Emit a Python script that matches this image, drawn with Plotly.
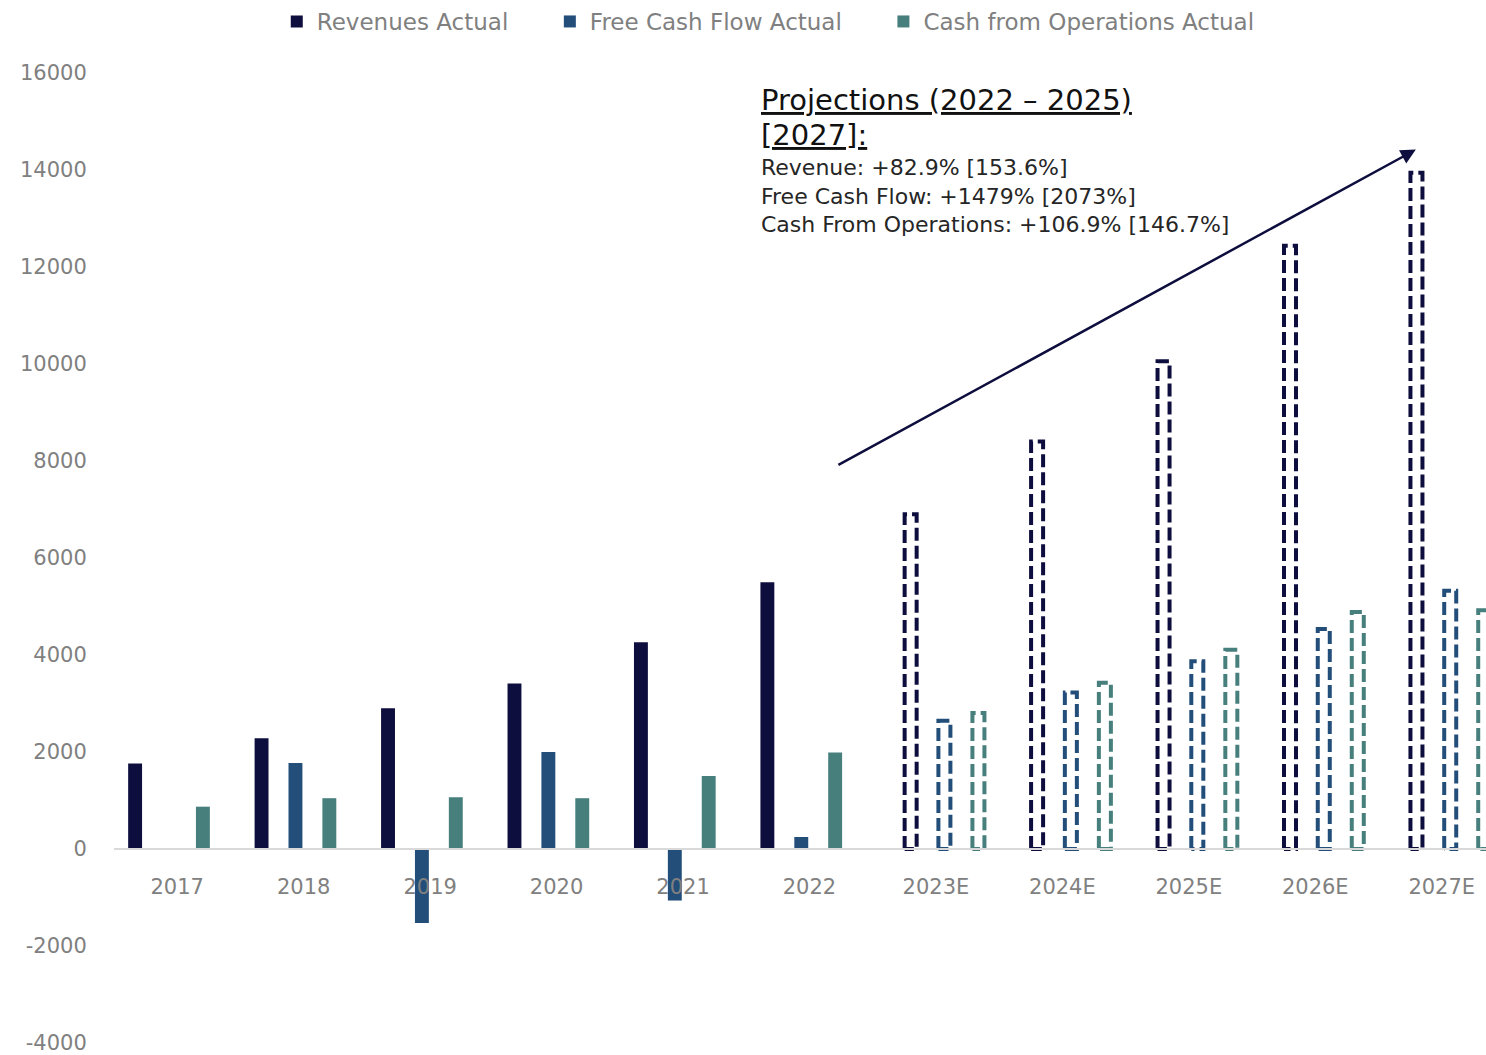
import plotly.graph_objects as go

# ---------------- data ----------------
categories = ["2017", "2018", "2019", "2020", "2021", "2022",
              "2023E", "2024E", "2025E", "2026E", "2027E"]
actual_years = ["2017", "2018", "2019", "2020", "2021", "2022"]
rev_actual = [1760, 2280, 2900, 3410, 4260, 5498]
fcf_actual = [None, 1770, -1530, 2000, -1065, 245]
cfo_actual = [870, 1045, 1065, 1045, 1505, 1988]

proj_years = ["2023E", "2024E", "2025E", "2026E", "2027E"]
rev_proj = [6900, 8400, 10056, 12440, 13943]
fcf_proj = [2640, 3225, 3869, 4535, 5324]
cfo_proj = [2800, 3425, 4105, 4885, 4920]

y_ticks = [-4000, -2000, 0, 2000, 4000, 6000, 8000, 10000, 12000, 14000, 16000]
y_tick_text = ["-4000", "-2000", "0", "2000", "4000", "6000", "8000",
               "10000", "12000", "14000", "16000"]

series_names = ["Revenues Actual", "Free Cash Flow Actual", "Cash from Operations Actual"]
colors = ["#0E0E3E", "#234E7A", "#467F7C"]

# ---------------- layout constants ----------------
FONT = "DejaVu Sans"
GRAY = "#808080"
actual_offsets = [-0.333, -0.065, 0.203]
proj_offsets = [-0.2, 0.067, 0.336]
bar_w = 0.11
proj_w = 0.095
legend_pad = ["\u00a0" * 5, "\u00a0" * 5, ""]

fig = go.Figure()

idx = {c: i for i, c in enumerate(categories)}

# actual solid bars
for name, pad, vals, off, col in zip(series_names, legend_pad,
                                     [rev_actual, fcf_actual, cfo_actual],
                                     actual_offsets, colors):
    fig.add_trace(go.Bar(
        name=name + pad,
        x=[idx[y] + off for y in actual_years],
        y=vals,
        width=bar_w,
        marker=dict(color=col, line=dict(width=0)),
    ))

# projected dashed outline bars
for name, vals, off, col in zip(series_names, [rev_proj, fcf_proj, cfo_proj],
                                proj_offsets, colors):
    xs, ys = [], []
    for y, v in zip(proj_years, vals):
        c = idx[y] + off
        l, r = c - proj_w / 2, c + proj_w / 2
        xs += [l, l, r, r, l, None]
        ys += [0, v, v, 0, 0, None]
    fig.add_trace(go.Scatter(
        x=xs, y=ys, mode="lines", showlegend=False, hoverinfo="skip",
        line=dict(color=col, width=4, dash="13px,5px"),
        name=name.replace("Actual", "Projected"),
    ))

# arrow
fig.add_annotation(
    x=9.795, y=14420, ax=5.217, ay=7900,
    xref="x", yref="y", axref="x", ayref="y",
    text="", showarrow=True, arrowhead=2, arrowsize=1.2, arrowwidth=2.5,
    arrowcolor="#0E0E3E",
)

# projection text
head_lines = ["Projections (2022 – 2025)", "[2027]:"]
head_y = [0.9905, 0.9545]
for t, yy in zip(head_lines, head_y):
    fig.add_annotation(
        xref="paper", yref="paper", x=0.4708, y=yy,
        xanchor="left", yanchor="top", align="left", showarrow=False, borderpad=0,
        text="<u>" + t + "</u>",
        font=dict(family=FONT, size=29, color="#111111"),
    )
fig.add_annotation(
    xref="paper", yref="paper", x=0.4708, y=0.9165,
    xanchor="left", yanchor="top", align="left", showarrow=False, borderpad=0,
    text="Revenue: +82.9% [153.6%]<br>Free Cash Flow: +1479% [2073%]<br>"
         "Cash From Operations: +106.9% [146.7%]",
    font=dict(family=FONT, size=22, color="#262626"),
)

fig.update_layout(
    width=1486, height=1055,
    margin=dict(l=114, r=0, t=73, b=12),
    paper_bgcolor="white", plot_bgcolor="white",
    barmode="overlay",
    font=dict(family=FONT, color=GRAY, size=21),
    legend=dict(
        orientation="h", xref="container", yref="container",
        x=0.517, xanchor="center", y=1.0, yanchor="top",
        font=dict(family=FONT, size=23, color=GRAY),
        itemwidth=30, tracegroupgap=0,
    ),
    xaxis=dict(
        range=[-0.5, 10.35], tickmode="array",
        tickvals=list(range(len(categories))), ticktext=categories,
        showgrid=False, zeroline=False,
        anchor="free", position=0.2,
        showline=True, linecolor="#D9D9D9", linewidth=2,
        ticks="outside", ticklen=19, tickcolor="rgba(0,0,0,0)",
        tickfont=dict(family=FONT, size=21, color=GRAY),
    ),
    yaxis=dict(
        range=[-4003, 16000], tickmode="array",
        tickvals=y_ticks, ticktext=y_tick_text,
        showgrid=False, zeroline=False, showline=False,
        ticks="outside", ticklen=22, tickcolor="rgba(0,0,0,0)",
        ticklabeloverflow="allow",
        tickfont=dict(family=FONT, size=21, color=GRAY),
    ),
)

fig.write_html("out.html")
